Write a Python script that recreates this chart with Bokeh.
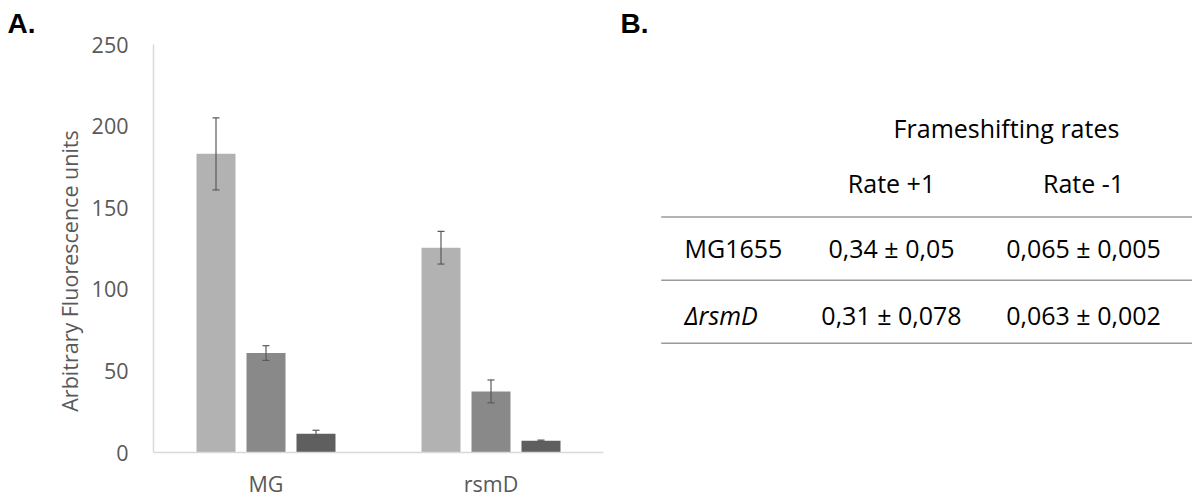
from bokeh.plotting import figure
from bokeh.models import (ColumnDataSource, FactorRange, Range1d, Whisker, TeeHead,
                          Span, FixedTicker, Title)
from bokeh.transform import dodge
from bokeh.layouts import row
from bokeh.embed import file_html
from bokeh.resources import INLINE
from bokeh.core.properties import value

# ---------------- data ----------------
categories = ["MG", "rsmD"]
series_1 = [183.0, 125.5]
series_1_err = [22.0, 10.0]
series_2 = [61.0, 37.5]
series_2_err = [4.5, 7.0]
series_3 = [11.5, 7.3]
series_3_err = [2.2, 0.4]
y_ticks = [0, 50, 100, 150, 200, 250]
y_label = "Arbitrary Fluorescence units"

table_title = "Frameshifting rates"
table_columns = ["Rate +1", "Rate -1"]
table_rows = ["MG1655", "\u0394rsmD"]
rate_plus_1 = ["0,34 \u00b1 0,05", "0,31 \u00b1 0,078"]
rate_minus_1 = ["0,065 \u00b1 0,005", "0,063 \u00b1 0,002"]

# ---------------- styles ----------------
FONT = "Open Sans"
GREY_TXT = "#595959"
AXIS_C = "#d9d9d9"
COLORS = ["#b2b2b2", "#898989", "#5f5f5f"]
ERR_C = "#5a5a5a"
TOP = 43

# ---------------- panel A ----------------
data = dict(cat=categories)
for i, (v, e) in enumerate([(series_1, series_1_err), (series_2, series_2_err), (series_3, series_3_err)]):
    data[f"s{i}"] = v
    data[f"lo{i}"] = [a - b for a, b in zip(v, e)]
    data[f"hi{i}"] = [a + b for a, b in zip(v, e)]
src = ColumnDataSource(data)

p1 = figure(x_range=FactorRange(factors=categories, range_padding=0),
            y_range=Range1d(-27.5, 250),
            width=608, height=497, x_axis_location=None,
            min_border_left=153, min_border_right=5, min_border_top=TOP, min_border_bottom=0,
            output_backend="svg", toolbar_location=None)
p1.outline_line_color = None
p1.grid.visible = False
p1.background_fill_color = "white"

p1.title = Title(text="A.", align="left", offset=-146, standoff=11,
                 text_font="Liberation Sans", text_font_style="bold",
                 text_font_size="28px", text_color="black")

offsets = [-0.2222, 0.0, 0.2222]
for i, off in enumerate(offsets):
    base = dodge("cat", off, range=p1.x_range)
    p1.vbar(x=base, top=f"s{i}", width=0.1733, bottom=0, source=src,
            fill_color=COLORS[i], line_color=None)
    w = Whisker(base=base, upper=f"hi{i}", lower=f"lo{i}", source=src,
                line_color=ERR_C, line_width=1.2, level="overlay",
                upper_head=TeeHead(size=7, line_color=ERR_C, line_width=1.2),
                lower_head=TeeHead(size=7, line_color=ERR_C, line_width=1.2))
    p1.add_layout(w)

p1.add_layout(Span(location=0, dimension="width", line_color=AXIS_C, line_width=1.5))

yax = p1.yaxis[0]
yax.ticker = FixedTicker(ticks=y_ticks)
yax.bounds = (0, 250)
yax.axis_line_color = AXIS_C
yax.axis_line_width = 1.5
yax.major_tick_line_color = None
yax.minor_tick_line_color = None
yax.major_label_standoff = 19
yax.major_label_text_font = FONT
yax.major_label_text_font_size = "21.5px"
yax.major_label_text_color = GREY_TXT
yax.axis_label = y_label
yax.axis_label_text_font = FONT
yax.axis_label_text_font_size = "21.5px"
yax.axis_label_text_font_style = "normal"
yax.axis_label_text_color = GREY_TXT
yax.axis_label_standoff = 5

p1.text(x="cat", y=0, text="cat", source=src, y_offset=31,
        text_align="center", text_baseline="alphabetic",
        text_font=value(FONT), text_font_size="21.5px", text_color=GREY_TXT)

# ---------------- panel B (table) ----------------
# frame is aligned with panel A's frame (top at y=TOP), so data coords = page pixels
p2 = figure(x_range=Range1d(608, 1192), y_range=Range1d(497, TOP),
            width=584, height=497, min_border_left=0, min_border_right=0,
            min_border_top=TOP, min_border_bottom=0,
            x_axis_location=None, y_axis_location=None,
            output_backend="svg", toolbar_location=None)
p2.outline_line_color = None
p2.grid.visible = False
p2.title = Title(text="B.", align="left", offset=12, standoff=11,
                 text_font="Liberation Sans", text_font_style="bold",
                 text_font_size="28px", text_color="black")

TFS = "25px"
col_x = [891, 1083]
row_y = [247, 314]
line_y = [216, 279.3, 342.3]

p2.segment(x0=[660.7] * 3, x1=[1192] * 3, y0=line_y, y1=line_y,
           line_color="#9a9a9a", line_width=1.5)

p2.text(x=[1006], y=[127], text=[table_title], text_align="center",
        text_baseline="alphabetic", text_font=value(FONT), text_font_size=TFS,
        text_color="black")
p2.text(x=col_x, y=[182, 182], text=table_columns, text_align="center",
        text_baseline="alphabetic", text_font=value(FONT), text_font_size=TFS,
        text_color="black")
p2.text(x=[684], y=[row_y[0]], text=[table_rows[0]], text_align="left",
        text_baseline="alphabetic", text_font=value(FONT), text_font_size=TFS,
        text_color="black")
p2.text(x=[684], y=[row_y[1]], text=[table_rows[1]], text_align="left",
        text_baseline="alphabetic", text_font=value(FONT), text_font_size=TFS,
        text_font_style="italic", text_color="black")
p2.text(x=[col_x[0]] * 2, y=row_y, text=rate_plus_1, text_align="center",
        text_baseline="alphabetic", text_font=value(FONT), text_font_size=TFS,
        text_color="black")
p2.text(x=[col_x[1]] * 2, y=row_y, text=rate_minus_1, text_align="center",
        text_baseline="alphabetic", text_font=value(FONT), text_font_size=TFS,
        text_color="black")

layout = row(p1, p2)
open("out.html", "w").write(file_html(layout, INLINE))
